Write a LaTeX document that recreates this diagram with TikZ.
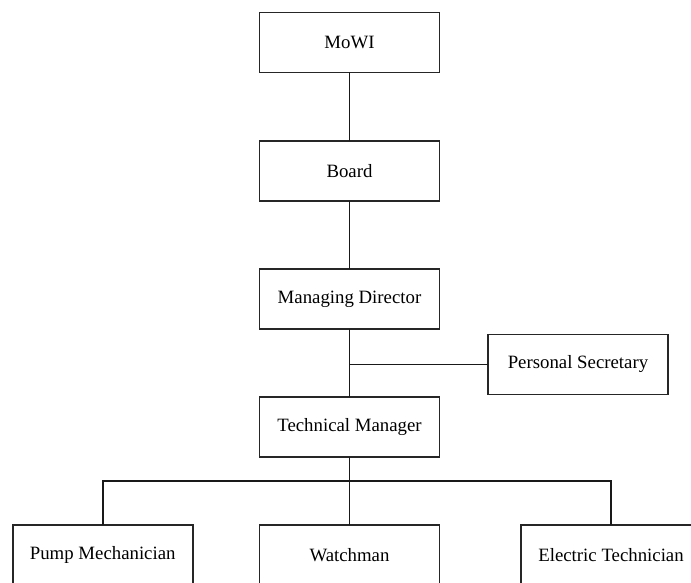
\documentclass[tikz,border=0pt]{standalone}
\usepackage{fontspec}
\setmainfont{Liberation Serif}
\begin{document}
\begin{tikzpicture}[x=1pt,y=-1pt,
  post/.style={draw=black!85, line width=1.7pt, fill=white,
    minimum width=180pt, minimum height=60pt, inner sep=0pt, outer sep=0pt,
    font=\fontsize{18.8}{22}\selectfont},
  link/.style={draw=black!90, line width=1.6pt}]
  \clip (0,0) rectangle (691,583);
  \fill[white] (0,0) rectangle (691,583);

  % chain of command
  \node[post] (mowi)  at (349.5,42.5) {MoWI};
  \node[post] (board) at (349.5,171)  {Board};
  \node[post] (md)    at (349.5,299)  {Managing Director};
  \node[post] (tm)    at (349.5,427)  {Technical Manager};
  \node[post] (ps)    at (578,364.5)  {Personal Secretary};

  % staff row
  \node[post] (pm) at (102.7,555) {Pump Mechanician};
  \node[post] (wm) at (349.5,555) {Watchman};
  \node[post] (et) at (611,555)   {Electric Technician};

  \draw[link] (mowi.south) -- (board.north);
  \draw[link] (board.south) -- (md.north);
  \draw[link] (md.south) -- (tm.north);
  \draw[link] (ps.west) -- (ps.west -| md.south);

  \coordinate (bus) at (349.5,481);
  \draw[link] (tm.south) -- (bus) -- (wm.north);
  \draw[link] (pm.north) -- (pm.north |- bus) -- (et.north |- bus) -- (et.north);
\end{tikzpicture}
\end{document}
